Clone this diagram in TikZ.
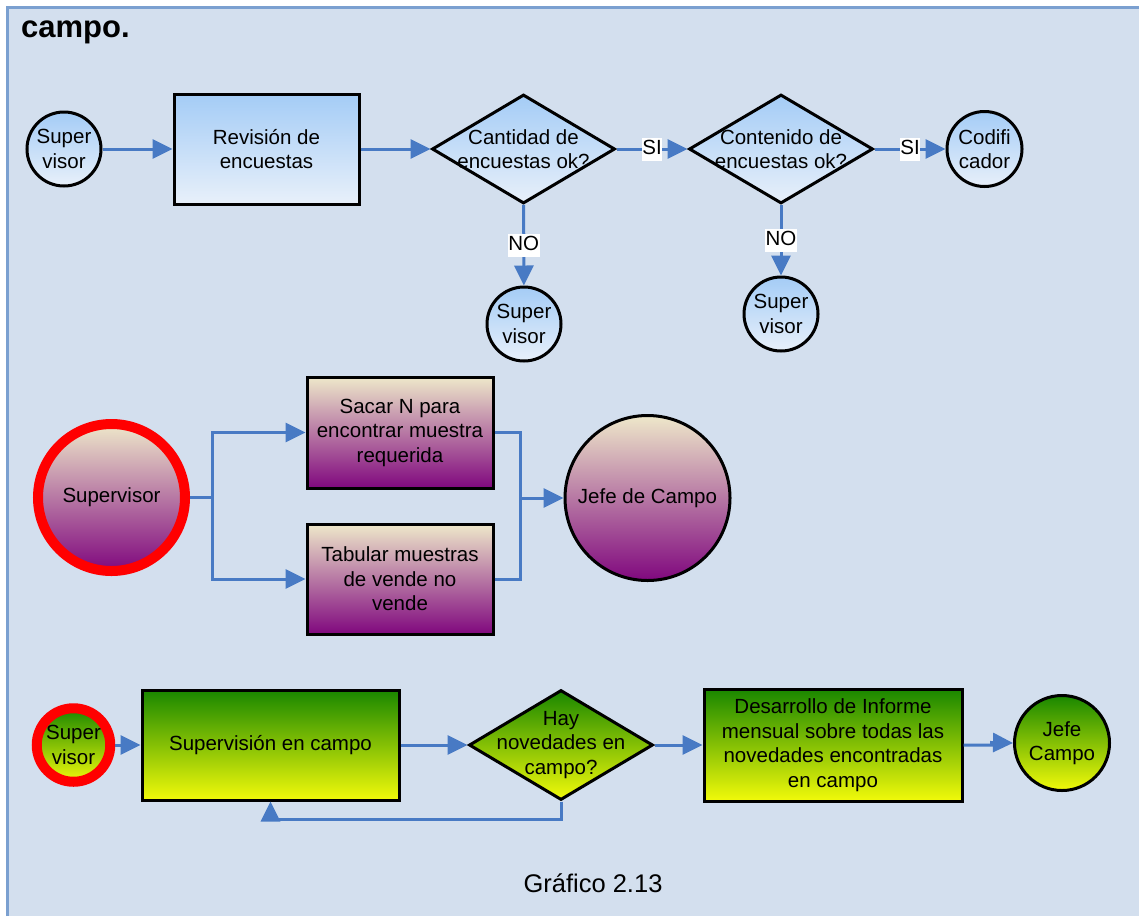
\documentclass[tikz,border=0pt]{standalone}
\usepackage{fontspec}
\setmainfont{Liberation Sans}
\usetikzlibrary{shapes.geometric,arrows.meta}

\definecolor{pagebg}{RGB}{211,223,238}
\definecolor{frameblue}{RGB}{123,160,208}
\definecolor{flow}{RGB}{72,122,196}
\definecolor{blueTop}{RGB}{164,204,246}
\definecolor{blueBot}{RGB}{232,240,250}
\definecolor{creamTop}{RGB}{238,232,202}
\definecolor{pinkMid}{RGB}{196,136,172}
\definecolor{purpleBot}{RGB}{128,8,126}
\definecolor{greenTop}{RGB}{25,135,0}
\definecolor{greenMid}{RGB}{132,192,5}
\definecolor{yellowBot}{RGB}{242,250,10}
\definecolor{ringred}{RGB}{255,0,0}

\newcommand\flowfont{\fontsize{20.5}{24.5}\selectfont}

\tikzset{
  shp/.style={draw=black, line width=3pt, inner sep=0pt, align=center, font=\flowfont},
  bluefill/.style={shp, top color=blueTop, bottom color=blueBot},
  purplefill/.style={shp, top color=creamTop, middle color=pinkMid, bottom color=purpleBot},
  greenfill/.style={shp, top color=greenTop, middle color=greenMid, bottom color=yellowBot},
  stepbox/.style={rectangle},
  endcircle/.style={circle},
  decision/.style={diamond},
  ring/.style={draw=ringred, line width=10pt},
  txt/.style={align=center, font=\flowfont, inner sep=0pt},
  ln/.style={draw=flow, line width=3pt},
  arr/.style={ln, -{Triangle[length=20pt,width=19pt]}},
  lbl/.style={fill=white, font=\flowfont, inner xsep=0.5pt, inner ysep=2pt,
              text height=15pt, text depth=4pt}
}

\begin{document}
\begin{tikzpicture}[x=1pt,y=-1pt]
\useasboundingbox (0,0) rectangle (1139,916);
\fill[white] (0,0) rectangle (1139,916);
\fill[pagebg] (6,6) rectangle (1139,916);
\draw[frameblue, line width=3pt] (7.5,916) -- (7.5,7.5) -- (1139,7.5);

\node[anchor=base west, font=\fontsize{31}{36}\selectfont\bfseries, inner sep=0pt]
  (title) at (21,37) {campo.};

% --- first flow: survey review ---
\node[bluefill, endcircle, minimum size=74pt] (sv1) at (64,149) {Super\\visor};
\node[bluefill, stepbox, minimum width=185pt, minimum height=110pt] (rev) at (266.5,149) {Revisión de\\encuestas};
\node[bluefill, decision, minimum width=183pt, minimum height=109pt] (dq) at (523.5,149) {};
\node[txt] (dqt) at (523.5,149) {Cantidad de\\encuestas ok?};
\node[bluefill, decision, minimum width=184pt, minimum height=109pt] (dc) at (781,149) {};
\node[txt] (dct) at (781,149) {Contenido de\\encuestas ok?};
\node[bluefill, endcircle, minimum size=75pt] (cod) at (984.5,149) {Codifi\\cador};
\node[bluefill, endcircle, minimum size=74pt] (sv2) at (524,324) {Super\\visor};
\node[bluefill, endcircle, minimum size=74pt] (sv3) at (781,314) {Super\\visor};

\draw[arr] (sv1) -- (rev);
\draw[arr] (rev) -- (dq);
\draw[arr] (dq) -- node[lbl] {SI} (dc);
\draw[arr] (dc) -- node[lbl] {SI} (cod);
\draw[arr] (dq) -- node[lbl] {NO} (sv2);
\draw[arr] (dc) -- node[lbl] {NO} (sv3);

% --- second flow: sampling ---
\node[purplefill, endcircle, ring, minimum size=147pt] (sup) at (111.5,497.5) {Supervisor};
\node[purplefill, stepbox, minimum width=186pt, minimum height=111pt] (sac) at (400,432.5) {Sacar N para\\encontrar muestra\\requerida};
\node[purplefill, stepbox, minimum width=186pt, minimum height=110pt] (tab) at (400,579) {Tabular muestras\\de vende no\\vende};
\node[purplefill, endcircle, minimum size=165pt] (jefe) at (647.5,498) {Jefe de Campo};
\coordinate (split) at (212,497.5);
\coordinate (merge) at (520,498);

\draw[ln] (sup) -- (split);
\draw[arr] (split) |- (sac);
\draw[arr] (split) |- (tab);
\draw[ln] (sac) -| (merge);
\draw[ln] (tab) -| (merge);
\draw[arr] (merge) -- (jefe);

% --- third flow: field supervision ---
\node[greenfill, endcircle, ring, minimum size=73.5pt] (sv4) at (73.5,745) {Super\\visor};
\node[greenfill, stepbox, minimum width=257pt, minimum height=110pt] (sup2) at (270.5,745) {Supervisión en campo};
\node[greenfill, decision, minimum width=184pt, minimum height=110pt] (hay) at (561,745) {};
\node[txt] (hayt) at (561,745) {Hay\\novedades en\\campo?};
\node[greenfill, stepbox, minimum width=258pt, minimum height=112pt] (des) at (833,745) {Desarrollo de Informe\\mensual sobre todas las\\novedades encontradas\\en campo};
\node[greenfill, endcircle, minimum size=95pt] (jc) at (1062,743) {Jefe\\Campo};

\draw[arr] (sv4) -- (sup2);
\draw[arr] (sup2) -- (hay);
\draw[arr] (hay) -- (des);
\draw[arr] (des.east) -- ++(28,0) -- ++(0,-2.5) -- (jc.west);
\draw[arr] (hay.south) -- ++(0,17.5) -| (sup2.south);

\node[font=\fontsize{25.5}{30}\selectfont, anchor=base, inner sep=0pt] (caption) at (593,892) {Gráfico 2.13};
\end{tikzpicture}
\end{document}
